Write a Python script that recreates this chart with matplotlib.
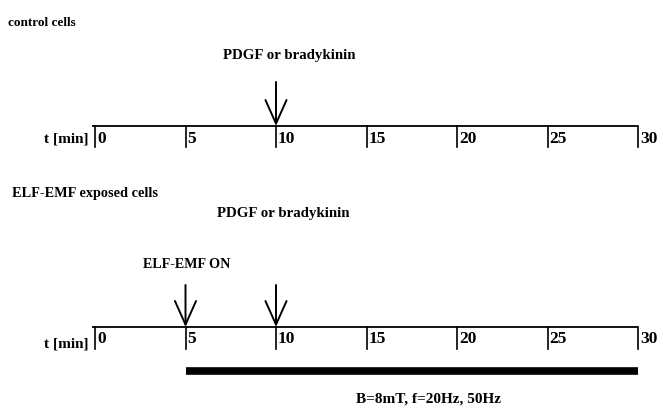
import numpy as np
import matplotlib
matplotlib.use("Agg")
import matplotlib.pyplot as plt

# time axis (minutes)
tick_minutes = [0, 5, 10, 15, 20, 25, 30]
control_arrows = [10]
exposed_arrows = [5, 10]
exposure_span = [5, 30]

plt.rcParams["font.family"] = ["Liberation Serif", "DejaVu Serif"]
plt.rcParams["font.weight"] = "bold"

W, H = 663, 413
fig = plt.figure(figsize=(W / 100, H / 100), dpi=100)
ax = fig.add_axes([0, 0, 1, 1])

# 0 min sits at x=95 px, 30 min at x=638 px; y in pixel rows (top = 0)
x0, px_per_min = 95, (638 - 95) / 30
def m(px):
    return (px - x0) / px_per_min

ax.set_xlim(m(0), m(W))
ax.set_ylim(H, 0)
ax.axis("off")


def timeline(y_line, tick_len, label_dy, tlabel_dy, arrows, arrow_top):
    ax.plot([m(92), tick_minutes[-1]], [y_line, y_line], color="black", lw=1.3,
            solid_capstyle="butt")
    for t in tick_minutes:
        ax.plot([t, t], [y_line, y_line + tick_len], color="black", lw=1.2)
        ax.text(t + m(97) - m(95), y_line + label_dy, str(t), ha="left", va="center",
                fontsize=12.5)
    ax.text(m(88), y_line + tlabel_dy, "t [min]", ha="right", va="center", fontsize=11)
    for t in arrows:
        ax.annotate("", xy=(t, y_line), xytext=(t, arrow_top),
                    arrowprops=dict(arrowstyle="->,head_length=0.85,head_width=0.38",
                                    mutation_scale=20, lw=1.4, color="black",
                                    shrinkA=0, shrinkB=0))


# control cells
ax.text(m(8), 23, "control cells", ha="left", va="center", fontsize=9.5)
ax.text(m(289), 56, "PDGF or bradykinin", ha="center", va="center", fontsize=10.7)
timeline(126, 21, 13, 13, control_arrows, 82)

# ELF-EMF exposed cells
ax.text(m(12), 193, "ELF-EMF exposed cells", ha="left", va="center", fontsize=10.3)
ax.text(m(283), 214, "PDGF or bradykinin", ha="center", va="center", fontsize=10.7)
ax.text(m(187), 264, "ELF-EMF ON", ha="center", va="center", fontsize=10.2)
timeline(327, 22, 12, 17, exposed_arrows, 285)

# exposure bar
ax.plot(exposure_span, [371, 371], color="black", lw=5.5, solid_capstyle="butt")
ax.text(m(429), 399, "B=8mT, f=20Hz, 50Hz", ha="center", va="center", fontsize=11)

fig.savefig("out.png", dpi=100, facecolor="white")
